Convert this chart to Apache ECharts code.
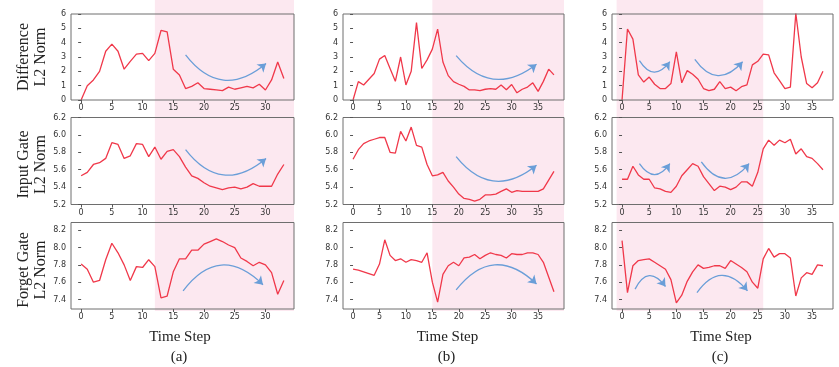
<!DOCTYPE html>
<html><head><meta charset="utf-8">
<script src="https://cdn.jsdelivr.net/npm/echarts@6/dist/echarts.min.js"></script>
<style>html,body{margin:0;padding:0;background:#fff}#c{width:839px;height:367px}</style>
</head><body><div id="c"></div>
<script>
// ---- data (time step = array index) ----
const diffA   = [0,1.0,1.4,2.0,3.4,3.9,3.4,2.15,2.7,3.2,3.25,2.75,3.25,4.85,4.75,2.15,1.75,0.8,0.95,1.2,0.8,0.75,0.7,0.65,0.9,0.75,0.85,0.95,0.85,1.1,0.7,1.4,2.65,1.5];
const inputA  = [5.53,5.57,5.66,5.68,5.73,5.91,5.89,5.73,5.76,5.90,5.89,5.75,5.86,5.72,5.81,5.83,5.75,5.63,5.53,5.50,5.45,5.41,5.39,5.37,5.39,5.40,5.38,5.40,5.44,5.41,5.41,5.41,5.55,5.66];
const forgetA = [7.81,7.75,7.60,7.62,7.86,8.05,7.94,7.80,7.62,7.78,7.77,7.86,7.78,7.42,7.44,7.72,7.87,7.87,7.97,7.97,8.04,8.07,8.10,8.07,8.03,8.00,7.88,7.84,7.79,7.83,7.80,7.71,7.46,7.62];

const diffB   = [0,1.28,1.05,1.45,1.85,2.85,3.1,2.2,1.3,3.0,1.05,2.0,5.4,2.2,2.8,3.55,4.95,2.65,1.7,1.28,1.1,0.95,0.7,0.7,0.65,0.75,0.8,0.75,1.05,0.72,1.08,0.5,0.75,0.9,1.2,0.6,1.3,2.15,1.75];
const inputB  = [5.72,5.83,5.90,5.93,5.95,5.97,5.97,5.80,5.79,6.04,5.93,6.09,5.88,5.86,5.66,5.53,5.54,5.57,5.47,5.40,5.32,5.27,5.26,5.24,5.26,5.31,5.31,5.32,5.35,5.38,5.34,5.36,5.35,5.35,5.35,5.35,5.38,5.48,5.58];
const forgetB = [7.75,7.74,7.72,7.70,7.68,7.81,8.09,7.91,7.85,7.87,7.83,7.86,7.85,7.83,7.94,7.60,7.37,7.69,7.79,7.83,7.79,7.88,7.89,7.92,7.87,7.91,7.94,7.92,7.91,7.88,7.93,7.92,7.92,7.94,7.94,7.92,7.83,7.66,7.49];

const diffC   = [0,4.95,4.25,1.75,1.25,1.6,1.1,0.8,0.8,1.15,3.35,1.2,2.05,1.8,1.45,0.8,0.65,0.75,1.28,0.8,0.9,0.65,0.93,1.05,2.45,2.7,3.2,3.15,1.9,1.35,0.8,0.9,6.05,3.0,1.15,0.85,1.2,2.0];
const inputC  = [5.49,5.49,5.64,5.54,5.49,5.49,5.39,5.38,5.35,5.34,5.41,5.53,5.60,5.67,5.64,5.52,5.44,5.36,5.41,5.40,5.37,5.40,5.46,5.46,5.41,5.57,5.84,5.94,5.88,5.94,5.91,5.95,5.78,5.84,5.75,5.73,5.67,5.60];
const forgetC = [8.08,7.48,7.79,7.85,7.86,7.87,7.83,7.79,7.75,7.63,7.36,7.45,7.61,7.72,7.80,7.76,7.77,7.79,7.79,7.76,7.85,7.81,7.77,7.72,7.60,7.53,7.87,7.99,7.89,7.93,7.93,7.88,7.44,7.65,7.71,7.69,7.80,7.79];

// shaded time-step ranges per column (null = to the end of the axis)
const shadeStart = [12, 15, -1];
const shadeEnd   = [null, null, 26];

// tick labels
const xTicksA  = [0,5,10,15,20,25,30];
const xTicksBC = [0,5,10,15,20,25,30,35];
const yTicksDiff   = [0,1,2,3,4,5,6];
const yTicksInput  = [5.2,5.4,5.6,5.8,6.0,6.2];
const yTicksForget = [7.4,7.6,7.8,8.0,8.2];

// trend arrows: [x1, y1, x2, y2, bend]
const arrowsA = [[[17,3.15,30.1,2.55,-0.52]], [[17,5.83,30.1,5.73,-0.52]], [[16.6,7.50,29.6,7.57,0.57]]];
const arrowsB = [[[19.5,3.1,34.7,2.5,-0.48]], [[19.5,5.75,34.7,5.65,-0.5]], [[19.5,7.51,34.7,7.58,0.55]]];
const arrowsC = [
  [[3.2,2.75,8.8,2.67,-0.72],[13.4,2.84,22.2,2.67,-0.63]],
  [[3.2,5.67,8.8,5.67,-0.72],[14.6,5.69,23.4,5.67,-0.65]],
  [[2.4,7.52,8.0,7.55,0.8],[13.8,7.48,23.1,7.50,0.65]]
];

const rowNames = [['Difference','L2 Norm'],['Input Gate','L2 Norm'],['Forget Gate','L2 Norm']];
const captions = ['(a)','(b)','(c)'];
const xName = 'Time Step';

// ---- layout / style ----
const colData = [[diffA,inputA,forgetA],[diffB,inputB,forgetB],[diffC,inputC,forgetC]];
const colArrows = [arrowsA, arrowsB, arrowsC];
const colXTicks = [xTicksA, xTicksBC, xTicksBC];
const rowYTicks = [yTicksDiff, yTicksInput, yTicksForget];
const yMin = [0, 5.2, 7.29], yMax = [6, 6.2, 8.29];
const colLeft = [71, 343, 612], colWidth = [223, 221, 221];
const rowTop = [14, 117.5, 222.5], rowHeight = [86, 87, 86.5];
const RED = '#f0384a', BLUE = '#6a9ed8', PINK = '#fce8f0', BOX = '#6e6e6e';
const labelFont = 'DejaVu Sans', serif = '"Liberation Serif","Times New Roman",serif';

const grid = [], xAxis = [], yAxis = [], series = [];
let g = 0;
for (let c = 0; c < 3; c++) {
  const n = colData[c][0].length;
  const xmin = -(n - 1) * 0.05, xmax = (n - 1) * 1.05;
  // full-height shading grid
  grid.push({left: colLeft[c], top: 0, width: colWidth[c], height: 311, show: false, outerBoundsMode: 'none', z: -20});
  xAxis.push({type: 'value', gridIndex: g, min: xmin, max: xmax, show: false});
  yAxis.push({type: 'value', gridIndex: g, min: 0, max: 1, show: false});
  series.push({
    type: 'line', xAxisIndex: g, yAxisIndex: g, z: -20, silent: true,
    data: [], showSymbol: false, lineStyle: {opacity: 0},
    markArea: {silent: true, z: -20, itemStyle: {color: PINK},
      data: [[{xAxis: shadeStart[c]}, {xAxis: shadeEnd[c] == null ? xmax : shadeEnd[c]}]]}
  });
  g++;
  for (let r = 0; r < 3; r++) {
    grid.push({left: colLeft[c], top: rowTop[r], width: colWidth[c], height: rowHeight[r],
      show: true, borderColor: BOX, borderWidth: 1, backgroundColor: 'transparent', outerBoundsMode: 'none', z: 5});
    xAxis.push({type: 'value', gridIndex: g, min: xmin, max: xmax, z: 5,
      axisLine: {show: false}, splitLine: {show: false},
      axisTick: {show: true, length: 3, lineStyle: {color: '#555'}, customValues: colXTicks[c]},
      axisLabel: {customValues: colXTicks[c], fontSize: 8, color: '#333', margin: 4, fontFamily: labelFont}});
    yAxis.push({type: 'value', gridIndex: g, min: yMin[r], max: yMax[r], z: 5,
      axisLine: {show: false}, splitLine: {show: false},
      axisTick: {show: true, length: 3, lineStyle: {color: '#555'}, customValues: rowYTicks[r]},
      axisLabel: {customValues: rowYTicks[r], fontSize: 8, color: '#333', margin: 5, fontFamily: labelFont,
        formatter: v => r === 0 ? String(Math.round(v)) : Number(v).toFixed(1)}});
    series.push({
      type: 'line', xAxisIndex: g, yAxisIndex: g, z: 3,
      data: colData[c][r].map((v, i) => [i, v]),
      showSymbol: false, symbol: 'none', clip: true,
      lineStyle: {color: RED, width: 1.3}
    });
    // curved trend arrows, drawn by a 'lines' series on the same cartesian axes
    series.push({
      type: 'lines', coordinateSystem: 'cartesian2d', xAxisIndex: g, yAxisIndex: g, z: 4,
      silent: true, symbol: ['none', 'arrow'], symbolSize: 8,
      lineStyle: {color: BLUE, width: 1.3, opacity: 1},
      data: colArrows[c][r].map(a => ({
        coords: [[a[0], a[1]], [a[2], a[3]]],
        lineStyle: {color: BLUE, width: 1.3, curveness: a[4]}
      }))
    });
    g++;
  }
}

const graphic = [];
const rowCenterY = [57, 164.5, 270];
const rowLabelX = [32.5, 32, 32.5];
for (let r = 0; r < 3; r++) {
  graphic.push({type: 'text', x: rowLabelX[r], y: rowCenterY[r], rotation: Math.PI / 2,
    style: {text: rowNames[r].join('\n'), x: 0, y: 0, align: 'center', verticalAlign: 'middle',
      font: '16px ' + serif, lineHeight: 17, fill: '#222'}});
}
const colCenterX = [180, 447.5, 721];
for (let c = 0; c < 3; c++) {
  graphic.push({type: 'text', x: colCenterX[c], y: 337.5,
    style: {text: xName, align: 'center', verticalAlign: 'middle', font: '15px ' + serif, fill: '#222'}});
  graphic.push({type: 'text', x: colCenterX[c] - 1, y: 357,
    style: {text: captions[c], align: 'center', verticalAlign: 'middle', font: '15px ' + serif, fill: '#222'}});
}

const chart = echarts.init(document.getElementById('c'));
chart.setOption({
  animation: false, backgroundColor: '#fff',
  grid, xAxis, yAxis, series, graphic
});
</script></body></html>
